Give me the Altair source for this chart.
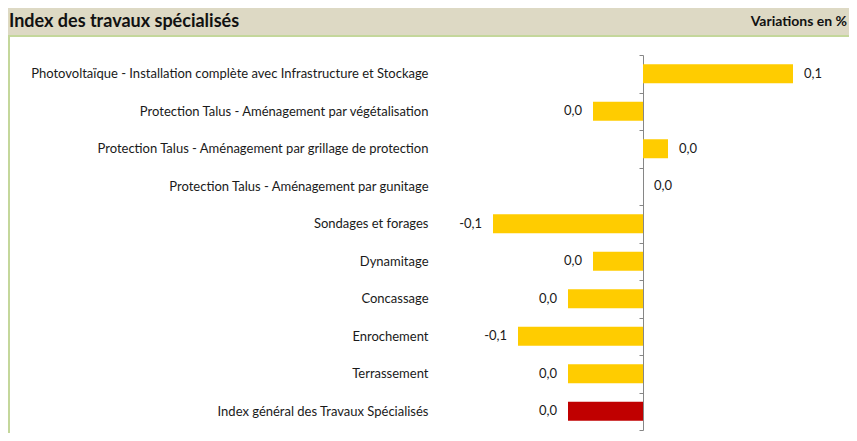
import altair as alt
import pandas as pd

categories = [
    "Photovoltaïque - Installation complète avec Infrastructure et Stockage",
    "Protection Talus - Aménagement par végétalisation",
    "Protection Talus - Aménagement par grillage de protection",
    "Protection Talus - Aménagement par gunitage",
    "Sondages et forages",
    "Dynamitage",
    "Concassage",
    "Enrochement",
    "Terrassement",
    "Index général des Travaux Spécialisés",
]
values = [0.06, -0.02, 0.01, 0.0, -0.06, -0.02, -0.03, -0.05, -0.03, -0.03]
value_labels = ["0,1", "0,0", "0,0", "0,0", "-0,1", "0,0", "0,0", "-0,1", "0,0", "0,0"]
kinds = ["detail"] * 9 + ["general"]

title_text = "Index des travaux spécialisés"
unit_text = "Variations en %"

df = pd.DataFrame({"cat": categories, "val": values, "lab": value_labels, "kind": kinds})
one = pd.DataFrame({"k": [0]})

W, H = 841, 425
FONT = "Lato"

xscale = alt.Scale(domain=[-0.254, 0.0824], nice=False, zero=False)
yscale = alt.Scale(domain=categories, range=[47, 422], paddingInner=0, paddingOuter=0)

base = alt.Chart(df)

bars = base.mark_bar(size=19).encode(
    x=alt.X("val:Q", scale=xscale, axis=None),
    y=alt.Y(
        "cat:N",
        scale=yscale,
        sort=categories,
        title=None,
        axis=alt.Axis(
            orient="left",
            offset=-635,
            domain=True,
            domainColor="#868686",
            domainWidth=1,
            ticks=True,
            tickColor="#868686",
            tickSize=4,
            tickBand="extent",
            labelPadding=211,
            labelFont=FONT,
            labelFontSize=13,
            labelColor="#1a1a1a",
            labelLimit=600,
            grid=False,
        ),
    ),
    color=alt.Color(
        "kind:N",
        scale=alt.Scale(domain=["detail", "general"], range=["#FFCC00", "#C00000"]),
        legend=None,
    ),
)

pos_text = base.transform_filter("datum.val >= 0").mark_text(
    align="left", baseline="middle", dx=11, font=FONT, fontSize=13, color="#1a1a1a"
).encode(
    x=alt.X("val:Q", scale=xscale),
    y=alt.Y("cat:N", scale=yscale, sort=categories),
    text="lab:N",
)

neg_text = base.transform_filter("datum.val < 0").mark_text(
    align="right", baseline="middle", dx=-11, font=FONT, fontSize=13, color="#1a1a1a"
).encode(
    x=alt.X("val:Q", scale=xscale),
    y=alt.Y("cat:N", scale=yscale, sort=categories),
    text="lab:N",
)

title_bar = alt.Chart(one).mark_rect(color="#DDD9C4").encode(
    x=alt.value(0), x2=alt.value(W), y=alt.value(0), y2=alt.value(27)
)
top_line = alt.Chart(one).mark_rule(color="#C4D79B", strokeWidth=2).encode(
    x=alt.value(0), x2=alt.value(W), y=alt.value(28)
)
left_line = alt.Chart(one).mark_rule(color="#C4D79B", strokeWidth=2).encode(
    x=alt.value(1), y=alt.value(28), y2=alt.value(H)
)
title_mark = alt.Chart(one).mark_text(
    align="left", baseline="middle", font=FONT, fontSize=18, fontWeight="bold", color="#111111"
).encode(x=alt.value(1), y=alt.value(14), text=alt.value(title_text))
unit_mark = alt.Chart(one).mark_text(
    align="right", baseline="middle", font=FONT, fontSize=14, fontWeight="bold", color="#111111"
).encode(x=alt.value(W - 2), y=alt.value(14), text=alt.value(unit_text))

chart = alt.layer(
    title_bar, top_line, left_line, title_mark, unit_mark, bars, pos_text, neg_text
).properties(
    width=W, height=H, autosize="none", padding=0
).configure_view(stroke=None)

chart.save("out.html", embed_options={"renderer": "svg", "actions": False})
